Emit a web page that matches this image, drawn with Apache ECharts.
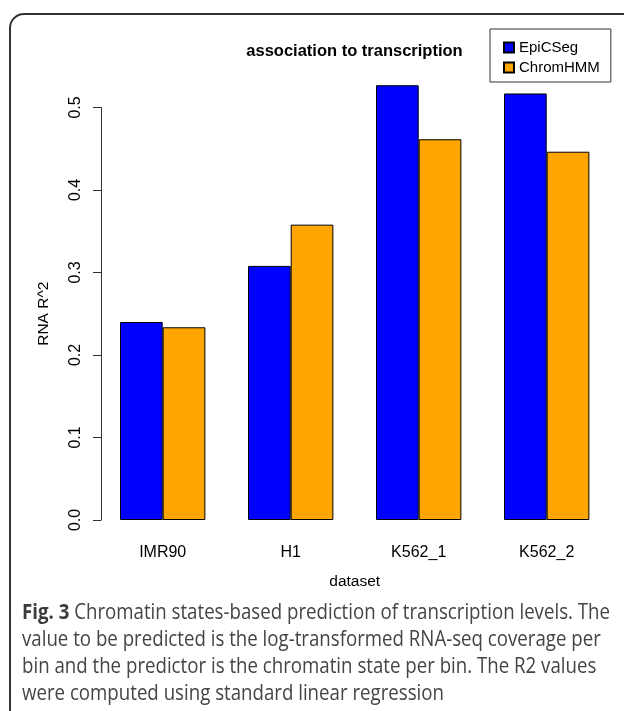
<!DOCTYPE html>
<html>
<head>
<meta charset="utf-8">
<script src="https://cdn.jsdelivr.net/npm/echarts@6/dist/echarts.min.js"></script>
<style>
  html, body { margin: 0; padding: 0; background: #fff; }
  #chart { width: 624px; height: 711px; }
</style>
</head>
<body>
<div id="chart"></div>
<script>
// Datasets and R^2 of each segmentation method
const datasets = ['IMR90', 'H1', 'K562_1', 'K562_2'];
const epicsegR2 = [0.240, 0.308, 0.527, 0.517];
const chromhmmR2 = [0.2336, 0.358, 0.4615, 0.4464];
const yTicks = [0, 0.1, 0.2, 0.3, 0.4, 0.5];

const captionLines = [
  ['Fig. 3', ' Chromatin states-based prediction of transcription levels. The'],
  ['', 'value to be predicted is the log-transformed RNA-seq coverage per'],
  ['', 'bin and the predictor is the chromatin state per bin. The R2 values'],
  ['', 'were computed using standard linear regression']
];

const chart = echarts.init(document.getElementById('chart'), null, { renderer: 'canvas' });

const axisFont = 'Liberation Sans, Arial, Helvetica, sans-serif';
const captionFont = '"Open Sans", "Noto Sans", sans-serif';
const captionSize = 22;

// squeeze the caption horizontally so the first line spans the text block
const ctx = document.createElement('canvas').getContext('2d');
ctx.font = 'bold ' + captionSize + 'px ' + captionFont;
let w1 = ctx.measureText(captionLines[0][0]).width;
ctx.font = captionSize + 'px ' + captionFont;
w1 += ctx.measureText(captionLines[0][1]).width;
const captionScale = 588 / w1;

const captionGraphics = captionLines.map((ln, i) => ({
  type: 'text',
  left: 22,
  top: 602 + i * 27,
  scaleX: captionScale,
  originX: 0,
  style: {
    text: (ln[0] ? '{b|' + ln[0] + '}' : '') + '{n|' + ln[1] + '}',
    rich: {
      b: { fontFamily: captionFont, fontSize: captionSize, fontWeight: 'bold', fill: '#3c3c3c' },
      n: { fontFamily: captionFont, fontSize: captionSize, fill: '#444444' }
    }
  }
}));

const barUnit = 42.67;

chart.setOption({
  animation: false,
  backgroundColor: '#ffffff',
  grid: { left: 98.7, right: 13.3, top: 107.5, bottom: 191 },
  xAxis: {
    type: 'category',
    data: datasets,
    axisLine: { show: false },
    axisTick: { show: false },
    axisLabel: { fontFamily: axisFont, fontSize: 16, color: '#000', margin: 25 },
    name: 'dataset',
    nameLocation: 'middle',
    nameGap: 54,
    nameTextStyle: { fontFamily: axisFont, fontSize: 15.5, color: '#000' }
  },
  yAxis: {
    type: 'value',
    min: 0,
    max: 0.5,
    interval: 0.1,
    offset: -2.3,
    splitLine: { show: false },
    axisLine: { show: true, lineStyle: { color: '#333', width: 1 } },
    axisTick: { show: true, length: 8, lineStyle: { color: '#333', width: 1 } },
    axisLabel: {
      rotate: 90,
      margin: 17,
      fontFamily: axisFont,
      fontSize: 16,
      color: '#000',
      formatter: v => v.toFixed(1)
    },
    name: 'RNA R^2',
    nameLocation: 'middle',
    nameGap: 49,
    nameRotate: 90,
    nameTextStyle: { fontFamily: axisFont, fontSize: 15.5, color: '#000' }
  },
  legend: {
    orient: 'vertical',
    left: 490,
    top: 29,
    padding: [11, 11, 7, 13],
    itemGap: 5,
    itemWidth: 10,
    itemHeight: 10,
    icon: 'rect',
    borderColor: '#333',
    borderWidth: 1,
    textStyle: { fontFamily: axisFont, fontSize: 15, color: '#000', lineHeight: 15 },
    data: ['EpiCSeg', 'ChromHMM']
  },
  series: [
    {
      name: 'EpiCSeg',
      type: 'bar',
      data: epicsegR2,
      barWidth: barUnit,
      barGap: '0%',
      clip: false,
      itemStyle: { color: '#0000ff', borderColor: '#000', borderWidth: 1 }
    },
    {
      name: 'ChromHMM',
      type: 'bar',
      data: chromhmmR2,
      barWidth: barUnit,
      barGap: '0%',
      clip: false,
      itemStyle: { color: '#ffa500', borderColor: '#000', borderWidth: 1 }
    }
  ],
  graphic: [
    {
      type: 'rect',
      shape: { x: 10, y: 14, width: 800, height: 900, r: 14 },
      style: { fill: 'none', stroke: '#333', lineWidth: 2 },
      silent: true
    },
    {
      type: 'text',
      x: 354.5,
      y: 51.5,
      style: {
        text: 'association to transcription',
        fontFamily: axisFont,
        fontSize: 16.5,
        fontWeight: 'bold',
        fill: '#000',
        textAlign: 'center',
        textVerticalAlign: 'middle'
      }
    }
  ].concat(captionGraphics)
});
</script>
</body>
</html>
